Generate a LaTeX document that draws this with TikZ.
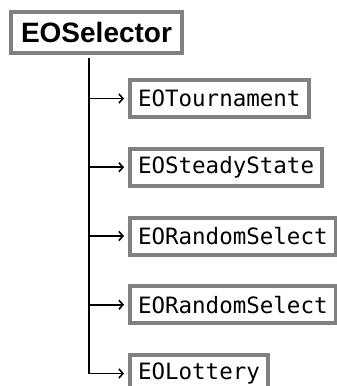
\documentclass[tikz,border=0pt]{standalone}
\usepackage{fontspec}
\setmainfont{Liberation Sans}
\newfontfamily\monofnt{DejaVu Sans Mono}
\usepackage{tikz}
\usetikzlibrary{arrows.meta}

\definecolor{boxgray}{RGB}{128,128,128}

\tikzset{
    classbox/.style={draw=boxgray, line width=4pt, fill=white, inner xsep=8pt,
        minimum height=37pt, anchor=west, font=\monofnt\fontsize{22.5}{24}\selectfont},
    rootbox/.style={draw=boxgray, line width=4pt, fill=white, inner xsep=10pt,
        minimum height=41pt, font=\bfseries\fontsize{28}{30}\selectfont},
    link/.style={line width=1.8pt, -{Straight Barb[length=4pt,width=9pt,line width=1.6pt]}, shorten >=4pt},
}

\begin{document}
\begin{tikzpicture}[x=1pt, y=-1pt]
    \useasboundingbox (0,0) rectangle (337,386);

    \node[rootbox] at (96.5, 32.5) (sel) {EOSelector};
    \coordinate (top) at (89, 58);

    \node[classbox] at (128, 98.5) (tour) {EOTournament};
    \node[classbox] at (128, 167.25) (steady) {EOSteadyState};
    \node[classbox] at (128, 236) (rand1) {EORandomSelect};
    \node[classbox] at (128, 304.75) (rand2) {EORandomSelect};
    \node[classbox] at (128, 373.5) (lott) {EOLottery};

    \draw[link] (top |- tour.west) -- (tour.west);
    \draw[link] (top |- steady.west) -- (steady.west);
    \draw[link] (top |- rand1.west) -- (rand1.west);
    \draw[link] (top |- rand2.west) -- (rand2.west);
    \draw[link] (top) |- (lott.west);
\end{tikzpicture}
\end{document}
